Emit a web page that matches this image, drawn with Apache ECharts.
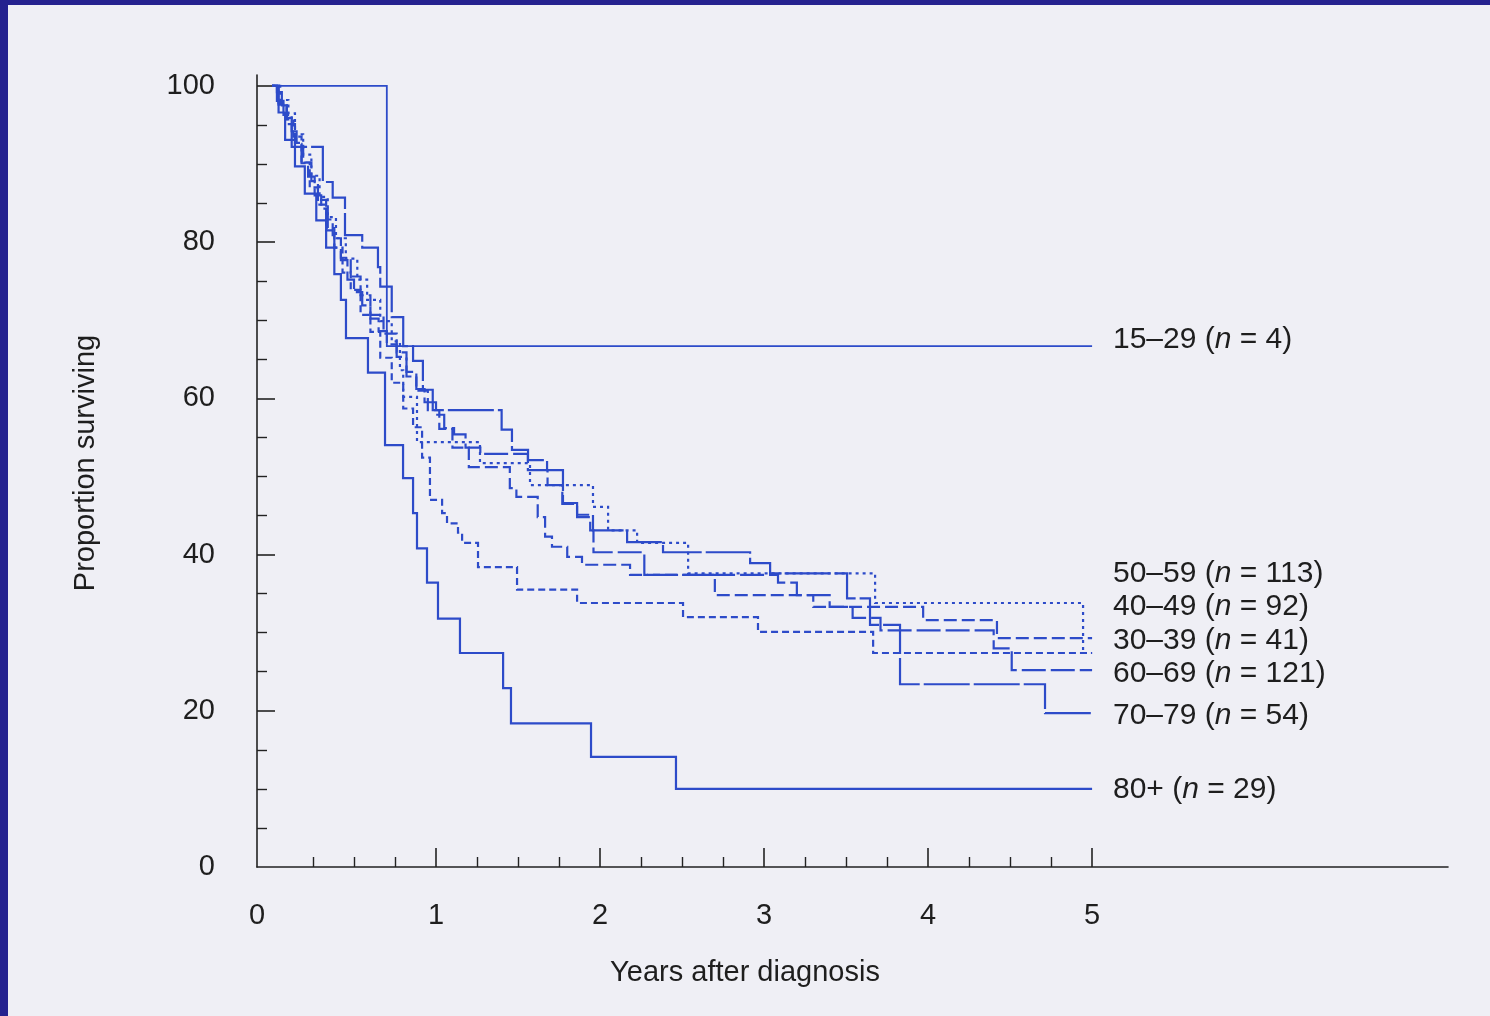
<!DOCTYPE html>
<html>
<head>
<meta charset="utf-8">
<script src="https://cdn.jsdelivr.net/npm/echarts@6/dist/echarts.min.js"></script>
<style>
html,body{margin:0;padding:0;background:#efeff5;}
#chart{width:1490px;height:1016px;}
</style>
</head>
<body>
<div id="chart"></div>
<script>
// ---------- data ----------
const ageGroups = ['15–29', '30–39', '40–49', '50–59', '60–69', '70–79', '80+'];
const groupN = [4, 41, 92, 113, 121, 54, 29];

const surv1529 = [[0,100],[0.70,66.7],[5,66.7]];

const surv3039 = [[0,100],[0.04,97.6],[0.09,95.1],[0.14,92.7],[0.19,90.2],[0.24,87.8],[0.28,85.4],[0.33,82.9],[0.37,80.5],[0.42,78.0],[0.48,75.6],[0.54,73.2],[0.60,70.7],[0.68,68.3],[0.76,65.9],[0.82,63.4],[0.88,61.0],[0.95,58.5],[1.02,56.1],[1.10,53.7],[1.20,51.2],[1.45,48.5],[1.49,47.4],[1.62,44.8],[1.665,42.3],[1.707,41.0],[1.80,39.7],[1.89,38.7],[2.183,37.4],[2.70,34.8],[3.30,33.3],[3.97,31.6],[4.42,29.3],[5,29.3]];

const surv4049 = [[0,100],[0.04,97.8],[0.09,95.7],[0.13,93.5],[0.18,90.2],[0.23,87.0],[0.28,84.8],[0.33,81.5],[0.38,79.3],[0.43,76.1],[0.48,73.9],[0.54,70.7],[0.60,68.5],[0.66,65.2],[0.73,62.0],[0.80,58.7],[0.86,56.3],[0.915,52.4],[0.963,47.0],[1.037,45.3],[1.067,44.0],[1.134,42.8],[1.159,41.5],[1.256,38.4],[1.494,35.5],[1.860,33.8],[2.506,32.0],[2.963,30.1],[3.665,27.4],[5,27.4]];

const surv5059 = [[0,100],[0.05,98.2],[0.10,96.5],[0.14,93.8],[0.19,91.2],[0.24,88.5],[0.29,85.8],[0.34,83.2],[0.39,80.5],[0.45,77.9],[0.52,75.2],[0.58,72.6],[0.66,69.9],[0.73,67.3],[0.78,63.6],[0.80,60.2],[0.884,54.4],[1.268,51.7],[1.573,48.9],[1.957,46.1],[2.049,43.1],[2.226,41.5],[2.537,37.6],[3.677,33.8],[4.945,27.4],[5,27.4]];

const surv6069 = [[0,100],[0.03,99.2],[0.06,97.5],[0.09,95.9],[0.12,94.2],[0.15,92.6],[0.18,90.1],[0.22,88.4],[0.26,86.0],[0.30,84.3],[0.34,81.8],[0.38,79.3],[0.42,77.7],[0.46,75.2],[0.50,73.6],[0.55,71.9],[0.60,70.2],[0.65,68.6],[0.70,66.9],[0.76,65.3],[0.82,62.8],[0.88,61.2],[0.93,59.5],[1.00,57.9],[1.05,56.2],[1.11,55.4],[1.18,53.7],[1.27,52.9],[1.56,50.8],[1.68,48.9],[1.77,46.5],[1.86,44.8],[1.94,43.1],[1.96,40.3],[2.27,37.4],[3.085,36.4],[3.20,34.8],[3.40,33.3],[3.54,31.9],[3.71,30.3],[4.40,28.0],[4.51,25.2],[5,25.2]];

const surv7079 = [[0,100],[0.03,98.1],[0.07,96.3],[0.12,92.2],[0.31,87.7],[0.37,85.7],[0.445,80.9],[0.55,79.3],[0.646,76.8],[0.66,74.3],[0.73,70.4],[0.80,66.7],[0.86,64.8],[0.92,61.1],[0.98,58.5],[1.40,56.0],[1.463,53.4],[1.561,52.1],[1.677,50.8],[1.774,46.6],[1.860,45.1],[1.957,43.1],[2.165,41.6],[2.384,40.3],[2.915,38.9],[3.037,37.6],[3.506,34.4],[3.646,31.0],[3.829,23.4],[4.713,19.7],[5,19.7]];

const surv80 = [[0,100],[0.04,96.6],[0.08,93.1],[0.14,89.7],[0.20,86.2],[0.27,82.8],[0.33,79.3],[0.38,75.9],[0.42,72.6],[0.451,67.7],[0.585,63.3],[0.689,54.0],[0.799,49.8],[0.860,45.3],[0.884,40.8],[0.945,36.4],[1.012,31.8],[1.146,27.4],[1.409,22.9],[1.457,18.4],[1.945,14.1],[2.463,10.0],[5,10.0]];

const survData = [surv1529, surv3039, surv4049, surv5059, surv6069, surv7079, surv80];

const xTickLabels = ['0', '1', '2', '3', '4', '5'];
const yTickLabels = [0, 20, 40, 60, 80, 100];

// ---------- styling ----------
const lineColor = '#2d4bc9';
const dashStyles = ['solid', [13, 5], [7, 4], [3, 4], [24, 5], [46, 4], 'solid'];
const labelY = [342, 643, 609, 576, 676, 718, 792];

const X_MIN = -0.0915, X_MAX = 7.17, Y_MAX = 101.4;
const textColor = '#1e1e1e';
const FONT = '"Liberation Sans", Arial, Helvetica, sans-serif';

const majorX = [1, 2, 3, 4, 5];
const minorX = [];
for (let q = 1; q < 20; q++) { if (q % 4 !== 0) minorX.push(q / 4); }
const majorY = [20, 40, 60, 80, 100];
const minorY = [];
for (let v = 5; v < 100; v += 5) { if (v % 20 !== 0) minorY.push(v); }

const chart = echarts.init(document.getElementById('chart'), null, {renderer: 'canvas'});

const series = survData.map((d, i) => ({
  name: ageGroups[i],
  type: 'line',
  step: 'end',
  data: d,
  showSymbol: false,
  symbol: 'none',
  silent: true,
  animation: false,
  xAxisIndex: 0,
  yAxisIndex: 0,
  lineStyle: {color: lineColor, width: i === 0 ? 1.8 : 2.2, type: dashStyles[i], cap: 'butt', join: 'miter'}
}));

const labelGraphics = ageGroups.map((g, i) => ({
  type: 'text',
  left: 1113,
  top: labelY[i] - 17,
  silent: true,
  style: {
    text: '{a|' + g + ' (}{i|n}{a| = ' + groupN[i] + ')}',
    rich: {
      a: {fontSize: 30, fontFamily: FONT, fill: textColor},
      i: {fontSize: 30, fontFamily: FONT, fontStyle: 'italic', fill: textColor}
    }
  }
}));

const option = {
  backgroundColor: '#efeff5',
  animation: false,
  grid: {left: 257, top: 75, width: 1191, height: 792, containLabel: false},
  xAxis: [
    {
      type: 'value', min: X_MIN, max: X_MAX,
      axisLine: {show: true, onZero: false, lineStyle: {color: '#222', width: 1.6}},
      axisTick: {show: true, inside: true, length: 19, customValues: majorX, lineStyle: {color: '#222', width: 1.6}},
      axisLabel: {
        show: true, customValues: [X_MIN].concat(majorX), margin: 34,
        fontSize: 29, fontFamily: FONT, color: textColor,
        formatter: v => xTickLabels[Math.max(0, Math.round(v))]
      },
      splitLine: {show: false}
    },
    {
      type: 'value', min: X_MIN, max: X_MAX, position: 'bottom',
      axisLine: {show: false, onZero: false},
      axisTick: {show: true, inside: true, length: 10, customValues: minorX, lineStyle: {color: '#222', width: 1.4}},
      axisLabel: {show: false},
      splitLine: {show: false}
    }
  ],
  yAxis: [
    {
      type: 'value', min: 0, max: Y_MAX, position: 'left',
      axisLine: {show: true, onZero: false, lineStyle: {color: '#222', width: 1.6}},
      axisTick: {show: true, inside: true, length: 18, customValues: majorY, lineStyle: {color: '#222', width: 1.6}},
      axisLabel: {
        show: true, customValues: yTickLabels, margin: 42,
        fontSize: 29, fontFamily: FONT, color: textColor
      },
      splitLine: {show: false}
    },
    {
      type: 'value', min: 0, max: Y_MAX, position: 'left',
      axisLine: {show: false, onZero: false},
      axisTick: {show: true, inside: true, length: 10, customValues: minorY, lineStyle: {color: '#222', width: 1.4}},
      axisLabel: {show: false},
      splitLine: {show: false}
    }
  ],
  series: series,
  graphic: [
    {type: 'rect', left: 0, top: 0, shape: {width: 8, height: 1016}, style: {fill: '#25228f'}, silent: true, z: 100},
    {type: 'rect', left: 0, top: 0, shape: {width: 1490, height: 5}, style: {fill: '#25228f'}, silent: true, z: 100},
    {
      type: 'text', x: 86, y: 463, rotation: Math.PI / 2, silent: true,
      style: {text: 'Proportion surviving', fontSize: 29, fontFamily: FONT, fill: textColor, align: 'center', verticalAlign: 'middle'}
    },
    {
      type: 'text', x: 745, y: 973, silent: true,
      style: {text: 'Years after diagnosis', fontSize: 29, fontFamily: FONT, fill: textColor, align: 'center', verticalAlign: 'middle'}
    }
  ].concat(labelGraphics)
};

chart.setOption(option);
</script>
</body>
</html>
